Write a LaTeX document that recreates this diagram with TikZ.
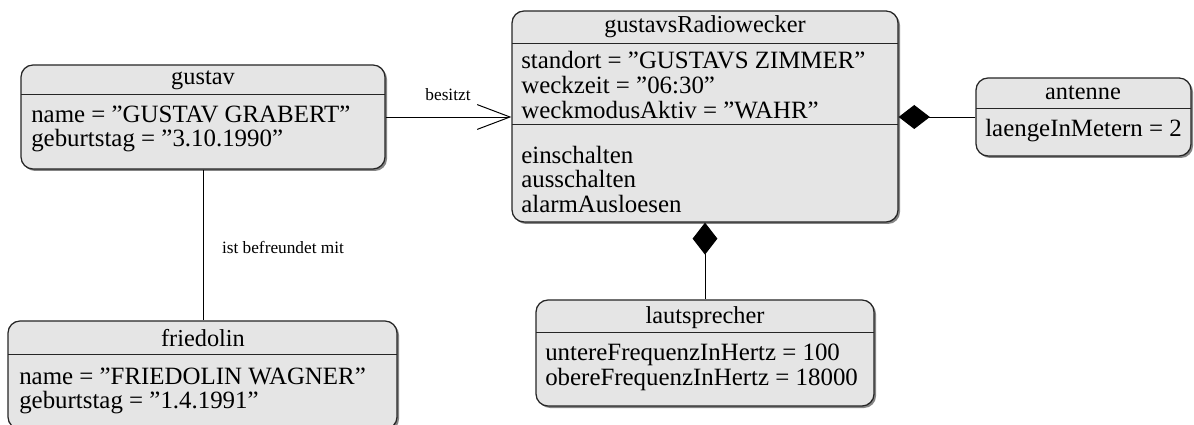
\documentclass[tikz,border=0pt]{standalone}
\usepackage{fontspec}
\setmainfont{Liberation Serif}
\usetikzlibrary{arrows.meta,fit,shadows}

\begin{document}
\begin{tikzpicture}[x=0.025cm, y=-0.025cm,
  objbox/.style={draw=black!85, line width=0.9pt, rounded corners=0.3cm, fill=black!10, inner sep=0pt,
    drop shadow={shadow xshift=0.05cm, shadow yshift=-0.05cm, opacity=0.6, fill=black!80}},
  sepline/.style={draw=black!85, line width=0.7pt},
  titel/.style={anchor=base, inner sep=0pt, font=\fontsize{17.3}{17}\selectfont},
  attr/.style={anchor=base west, inner sep=0pt, font=\fontsize{17.7}{17}\selectfont},
  linktext/.style={inner sep=0pt, font=\fontsize{12.3}{12.3}\selectfont},
  verb/.style={line width=0.7pt}]
  \useasboundingbox (0,0) rectangle (1194,425);

  % objects
  \node [objbox, fit={(21,65) (385,169)}] (gustav) {};
  \node [objbox, fit={(512,11) (898,222)}] (wecker) {};
  \node [objbox, fit={(976,78) (1191,156)}] (antenne) {};
  \node [objbox, fit={(8,321) (397,429)}] (friedolin) {};
  \node [objbox, fit={(536,300) (874,406)}] (lautsprecher) {};

  \draw [sepline] (21,94)--(385,94);
  \draw [sepline] (512,43)--(898,43);
  \draw [sepline] (512,124)--(898,124);
  \draw [sepline] (976,108)--(1191,108);
  \draw [sepline] (8,354)--(397,354);
  \draw [sepline] (536,332)--(874,332);

  % gustav
  \node [titel] (gustav-t) at (203,85) {gustav};
  \node [attr] (gustav-a1) at (31,123) {name = ”GUSTAV GRABERT”};
  \node [attr] (gustav-a2) at (31,147) {geburtstag = ”3.10.1990”};

  % gustavsRadiowecker
  \node [titel] (wecker-t) at (705,33) {gustavsRadiowecker};
  \node [attr] (wecker-a1) at (521,69) {standort = ”GUSTAVS ZIMMER”};
  \node [attr] (wecker-a2) at (521,94) {weckzeit = ”06:30”};
  \node [attr] (wecker-a3) at (521,119) {weckmodusAktiv = ”WAHR”};
  \node [attr] (wecker-o1) at (521,164) {einschalten};
  \node [attr] (wecker-o2) at (521,188) {ausschalten};
  \node [attr] (wecker-o3) at (521,213) {alarmAusloesen};

  % antenne
  \node [titel] (antenne-t) at (1083,100) {antenne};
  \node [attr] (antenne-a1) at (985,137) {laengeInMetern = 2};

  % friedolin
  \node [titel] (friedolin-t) at (203,347) {friedolin};
  \node [attr] (friedolin-a1) at (19,384) {name = ”FRIEDOLIN WAGNER”};
  \node [attr] (friedolin-a2) at (19,408) {geburtstag = ”1.4.1991”};

  % lautsprecher
  \node [titel] (lautsprecher-t) at (705,323) {lautsprecher};
  \node [attr] (lautsprecher-a1) at (545,360) {untereFrequenzInHertz = 100};
  \node [attr] (lautsprecher-a2) at (545,385) {obereFrequenzInHertz = 18000};

  % links
  \draw [verb, -{Straight Barb[length=0.82cm, width=0.62cm]}] (gustav.east) -- (gustav.east -| wecker.west);
  \node [linktext] (besitzt) at (448,95) {besitzt};
  \draw [verb] (gustav.south) -- (gustav.south |- friedolin.north);
  \node [linktext] (freund) at (283,247) {ist befreundet mit};
  \draw [verb, -{Diamond[length=0.78cm, width=0.6cm]}] (antenne.west) -- (antenne.west -| wecker.east);
  \draw [verb, -{Diamond[length=0.8cm, width=0.62cm]}] (lautsprecher.north) -- (wecker.south);
\end{tikzpicture}
\end{document}
